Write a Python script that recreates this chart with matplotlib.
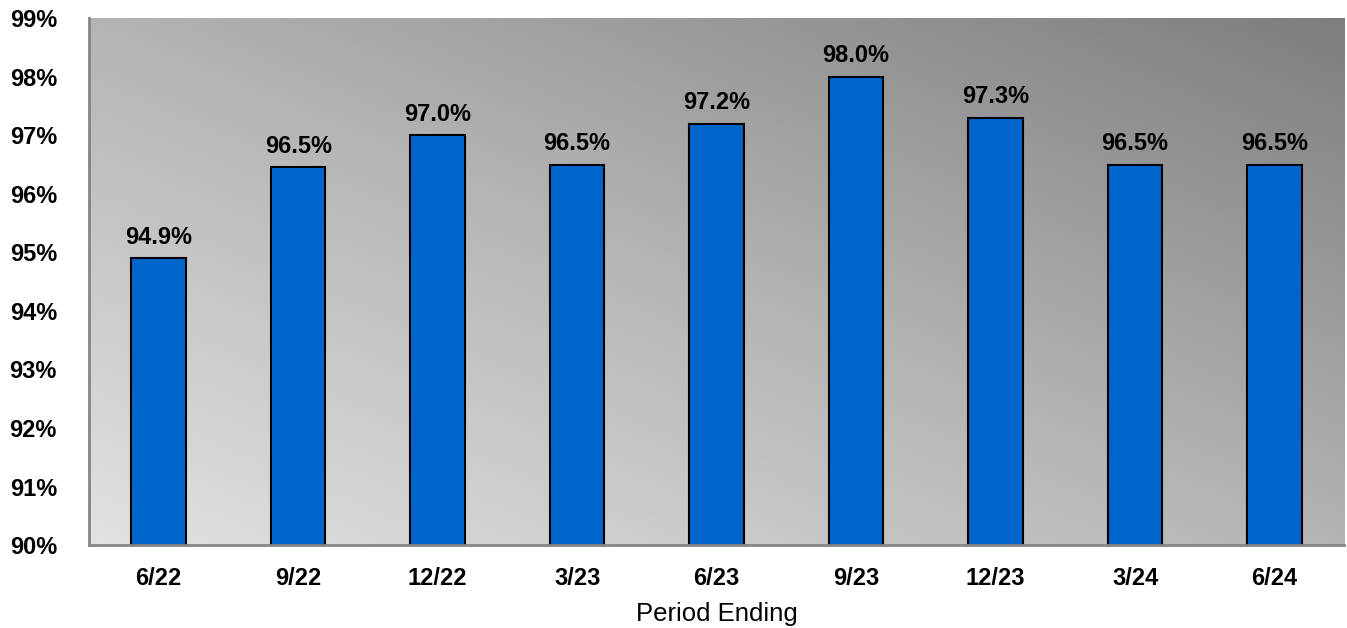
import numpy as np
import matplotlib
matplotlib.use("Agg")
import matplotlib.pyplot as plt
from matplotlib.colors import LinearSegmentedColormap

plt.rcParams['font.family'] = ['Liberation Sans', 'DejaVu Sans']

# data
periods = ["6/22", "9/22", "12/22", "3/23", "6/23", "9/23", "12/23", "3/24", "6/24"]
values = [94.9, 96.45, 97.0, 96.5, 97.2, 98.0, 97.3, 96.5, 96.5]
value_labels = ["94.9%", "96.5%", "97.0%", "96.5%", "97.2%", "98.0%", "97.3%", "96.5%", "96.5%"]
y_ticks = [90, 91, 92, 93, 94, 95, 96, 97, 98, 99]

fig = plt.figure(figsize=(13.47, 6.28), dpi=100)
ax = fig.add_axes([0.066, 0.132, 0.932, 0.839])

# diagonal gradient background: light bottom-left -> dark top-right
gx, gy = np.meshgrid(np.linspace(0, 1, 400), np.linspace(0, 1, 200))
u = (gx + gy) / 2
cmap = LinearSegmentedColormap.from_list("bg", ["#e2e2e4", "#b4b4b4", "#7e7e7e"])
ax.imshow(u, cmap=cmap, extent=[0, 1, 0, 1], origin="lower", aspect="auto",
          transform=ax.transAxes, zorder=0)

x = np.arange(len(periods))
ax.bar(x, values, width=0.39, bottom=0, color="#0066cc", edgecolor="black",
       linewidth=1.5, zorder=2)

for xi, v, lab in zip(x, values, value_labels):
    ax.annotate(lab, (xi, v), xytext=(0, 7), textcoords="offset points",
                ha="center", va="bottom", fontsize=17, fontweight="bold", zorder=3)

ax.set_xlim(-0.5, len(periods) - 0.5)
ax.set_ylim(90, 99)
ax.set_yticks(y_ticks)
ax.set_yticklabels([f"{t}%" for t in y_ticks], fontsize=17, fontweight="bold")
ax.set_xticks(x)
ax.set_xticklabels(periods, fontsize=17, fontweight="bold")
ax.tick_params(axis="y", length=0, pad=23)
ax.tick_params(axis="x", length=0, pad=16)
ax.set_xlabel("Period Ending", fontsize=18.5)
ax.xaxis.set_label_coords(0.5, -0.108)

for s in ["top", "right"]:
    ax.spines[s].set_visible(False)
for s in ["left", "bottom"]:
    ax.spines[s].set_color("#858585")
    ax.spines[s].set_linewidth(2)
    ax.spines[s].set_zorder(4)

fig.savefig("out.png", dpi=100)
